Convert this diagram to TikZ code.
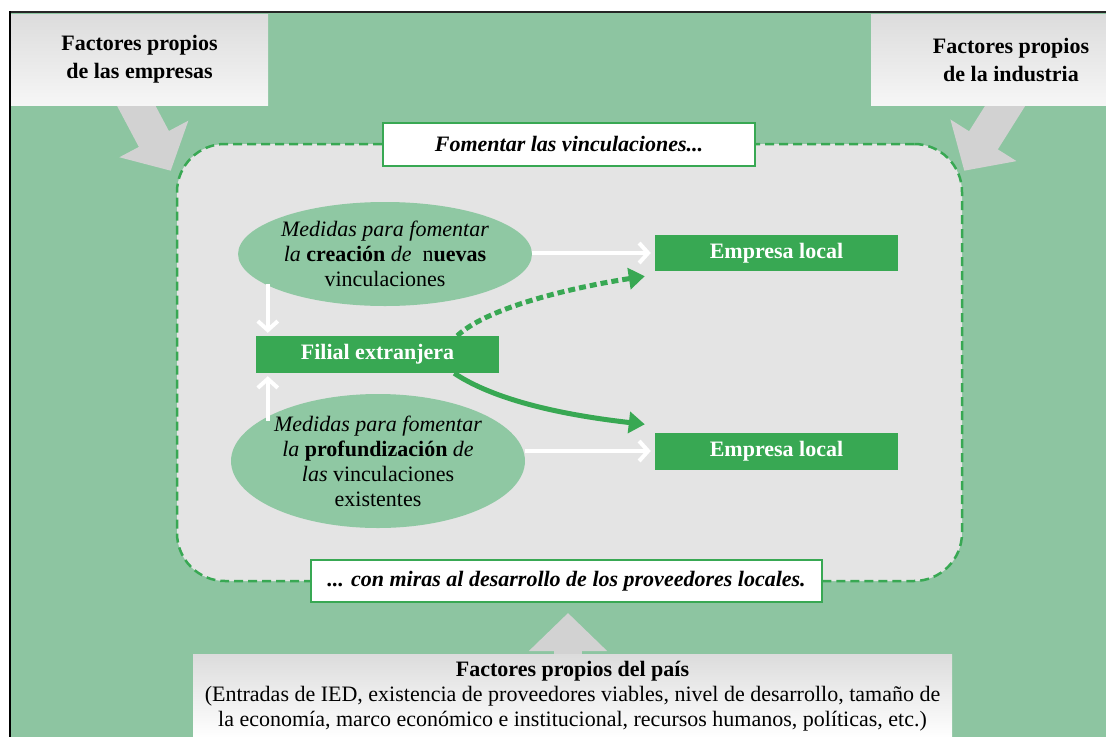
\documentclass[tikz,border=0pt]{standalone}
\usepackage{fontspec}
\setmainfont{Liberation Serif}
\usetikzlibrary{arrows.meta,calc,shapes.geometric}
\pgfdeclarelayer{back}
\pgfdeclarelayer{mid}
\pgfsetlayers{back,mid,main}
\definecolor{bggreen}{HTML}{8DC5A1}
\definecolor{boxgreen}{HTML}{38A853}
\definecolor{ellgreen}{HTML}{8FC8A3}
\definecolor{innergray}{HTML}{E4E4E4}
\definecolor{arrowgray}{HTML}{D2D2D2}
\definecolor{graytop}{HTML}{DCDCDC}
\definecolor{graybot}{HTML}{F6F6F6}
\begin{document}
\begin{tikzpicture}[x=1pt,y=-1pt,
  every node/.style={font=\fontsize{22}{25}\selectfont, inner sep=0pt},
  graybox/.style={top color=graytop, bottom color=graybot, draw=none, align=center},
  greenbox/.style={fill=boxgreen, text=white, font=\fontsize{22}{25}\selectfont\bfseries, minimum width=243pt, minimum height=37pt},
  whitebox/.style={fill=white, draw=boxgreen, line width=2pt, font=\fontsize{22}{25}\selectfont\bfseries\itshape},
  ell/.style={ellipse, fill=ellgreen, align=center},
  bigarrow/.style={draw=arrowgray, line width=34pt, -{Triangle[length=36pt,width=76pt]}},
  whitearrow/.style={draw=white, line width=4pt, -{Straight Barb[length=9pt,width=20pt]}},
  greenarrow/.style={draw=boxgreen, line width=5pt, -{Triangle[length=16pt,width=21pt]}},
]
\useasboundingbox (0,0) rectangle (1106,737);
\begin{pgfonlayer}{back}
  \fill[white] (0,0) rectangle (1106,737);
  \fill[bggreen] (11,13) rectangle (1106,737);
\end{pgfonlayer}

% outer gray boxes
\node[graybox, minimum width=257pt, minimum height=91pt] (fe) at (139.5,59.5)
  {\bfseries Factores propios\\[3pt]\bfseries de las empresas};
\node[graybox, minimum width=280pt, minimum height=91pt] (fi) at (1011,59.5)
  {\bfseries Factores propios\\[3pt]\bfseries de la industria};
\node[graybox, anchor=north, minimum width=759pt, inner ysep=7pt, top color=graytop, bottom color=white] (bb) at (572.5,654)
  {\textbf{Factores propios del país}\\
   (Entradas de IED, existencia de proveedores viables, nivel de desarrollo, tamaño de\\
   la economía, marco económico e institucional, recursos humanos, políticas, etc.)};

\draw[black!85, line width=2.5pt] (10,12) -- (1106,12);
\draw[black, line width=1.5pt] (10,11) -- (10,737);

% central region
\node[fill=innergray, draw=boxgreen, line width=2.5pt, dash pattern=on 9pt off 5pt,
      rounded corners=48pt, minimum width=785pt, minimum height=437pt] (reg) at (569.5,362.5) {};

\node[whitebox, minimum width=372pt, minimum height=43pt] (fom) at (569,144.5) {Fomentar las vinculaciones...};
\node[whitebox, minimum width=511pt, minimum height=42pt] (cm) at (566.5,581) {... con miras al desarrollo de los proveedores locales.};

% big gray arrows
\begin{pgfonlayer}{mid}
  \draw[bigarrow] ($(fe.south)+(-11.5,-15)$) -- ($(reg.north west)+(-5,28)$);
  \draw[bigarrow] ($(fi.south)+(4,-15)$) -- ($(reg.north east)+(1,28)$);
  \draw[bigarrow, line width=28pt, -{Triangle[length=38pt,width=76pt]}] ($(bb.north)+(-4.5,20)$) -- ($(cm.south)+(1.5,10)$);
\end{pgfonlayer}

% ellipses
\node[ell, minimum width=274pt, minimum height=104pt] (el1) at (385,254)
  {\textit{Medidas para fomentar}\\ \textit{la} \textbf{creación} \textit{de}\ \ n\textbf{uevas}\\ vinculaciones};
\node[ell, minimum width=266pt, minimum height=134pt] (el2) at (378,461)
  {\textit{Medidas para fomentar}\\ \textit{la} \textbf{profundización} \textit{de}\\ \textit{las} vinculaciones\\ existentes};

% green boxes
\node[greenbox] (fil) at (377.5,354.5) {Filial extranjera};
\node[greenbox, minimum height=36pt] (emp1) at (776.5,253) {Empresa local};
\node[greenbox] (emp2) at (776.5,451) {Empresa local};

% white arrows
\draw[whitearrow, shorten >=4pt] (el1.east |- emp1.west) -- (emp1.west);
\draw[whitearrow, shorten >=4pt] (el2.east |- emp2.west) -- (emp2.west);
\draw[whitearrow] ($(fil.north west)+(12,-52)$) -- ($(fil.north west)+(12,-3)$);
\draw[whitearrow] ($(fil.south west)+(12,48)$) -- ($(fil.south west)+(12,3)$);

% green arrows
\draw[greenarrow, dash pattern=on 7pt off 4pt] ($(fil.north east)+(-42,0)$)
  .. controls +(32,-30) and +(-65,10) .. ($(emp1.south west)+(-10,5)$);
\draw[greenarrow] ($(fil.south east)+(-45,0)$)
  .. controls +(45,30) and +(-70,-8) .. ($(emp2.north west)+(-10,-8)$);
\end{tikzpicture}
\end{document}
